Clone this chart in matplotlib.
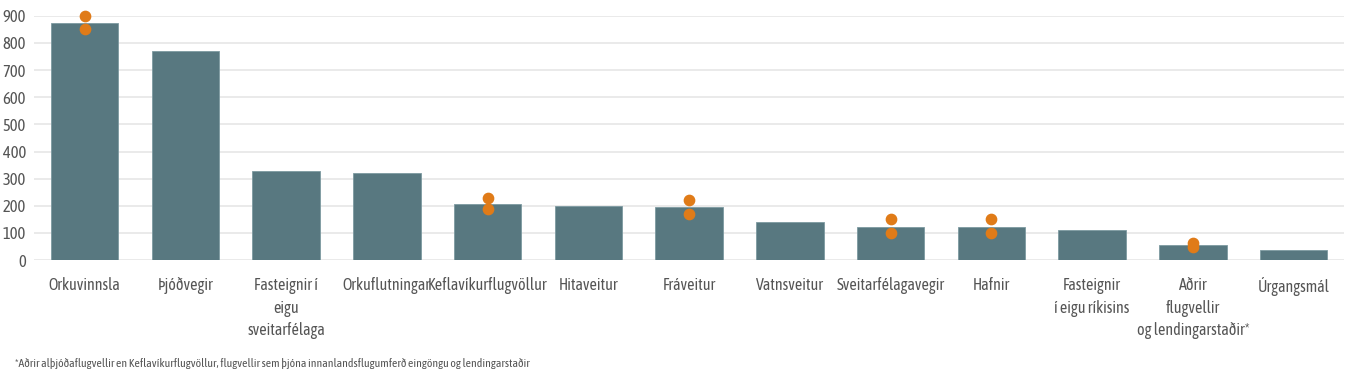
import matplotlib.pyplot as plt

# Categories and values
categories = ['Orkuvinnsla', 'Þjóðvegir', 'Fasteignir í\neigu\nsveitarfélaga',
              'Orkuflutningar', 'Keflavíkurflugvöllur', 'Hitaveitur', 'Fráveitur',
              'Vatnsveitur', 'Sveitarfélagavegir', 'Hafnir',
              'Fasteignir\ní eigu ríkisins', 'Aðrir\nflugvellir\nog lendingarstaðir*',
              'Úrgangsmál']
values = [875, 770, 330, 320, 207, 200, 195, 140, 122, 122, 110, 55, 38]

# orange dots (upper / lower) by category index
dot_idx = [0, 4, 6, 8, 9, 11]
dot_high = [900, 230, 220, 150, 150, 62]
dot_low = [850, 190, 170, 100, 100, 50]

yticks = list(range(0, 1000, 100))
footnote = ('*Aðrir alþjóðaflugvellir en Keflavíkurflugvöllur, flugvellir sem þjóna '
            'innanlandsflugumferð eingöngu og lendingarstaðir')

plt.rcParams['font.family'] = ['Asap Condensed', 'DejaVu Sans']
plt.rcParams['font.stretch'] = 'condensed'

text_color = '#555555'
fig = plt.figure(figsize=(13.7, 3.77), dpi=100)
ax = fig.add_axes([0.025, 0.31, 0.956, 0.648])

x = list(range(len(categories)))
ax.bar(x, values, width=0.67, color='#587880', edgecolor='#7d9aa1', linewidth=0.6, zorder=2)
ax.scatter(dot_idx, dot_high, s=55, color='#E07B18', zorder=3, clip_on=False)
ax.scatter(dot_idx, dot_low, s=55, color='#E07B18', zorder=3, clip_on=False)

ax.set_xlim(-0.5, len(categories) - 0.5)
ax.set_ylim(0, 900)
ax.set_yticks(yticks)
ax.set_xticks(x)
ax.set_xticklabels(categories, linespacing=1.45)
ax.grid(axis='y', color='#e6e6e6', linewidth=1.2, zorder=0)
for s in ax.spines.values():
    s.set_visible(False)
ax.tick_params(length=0, colors=text_color)
ax.tick_params(axis='x', pad=12, labelsize=11.5)
ax.tick_params(axis='y', pad=6, labelsize=12)

fig.text(0.011, 0.027, footnote, fontsize=8.5, color=text_color)

fig.savefig('out.png', dpi=100, facecolor='white')
